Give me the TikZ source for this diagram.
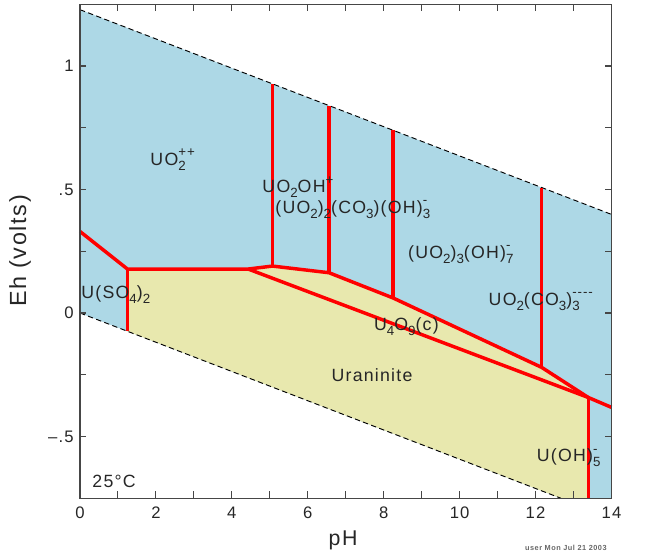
\documentclass[tikz,border=0pt]{standalone}
\usepackage{fontspec}
\setmainfont{Liberation Sans}[LetterSpace=7]
\newcommand\sbx[1]{\raisebox{-3.8pt}{\fontsize{10}{10}\selectfont #1}}
\newcommand\spx[1]{\raisebox{6.4pt}{\fontsize{10}{10}\selectfont #1}}
\newcommand\sbsp[2]{\ooalign{\sbx{#1}\cr\spx{#2}\cr}}
\definecolor{blueC}{RGB}{173,216,230}
\definecolor{yelC}{RGB}{232,232,174}
\definecolor{frameC}{RGB}{70,70,70}
\tikzset{
  wline/.style={black, line width=0.7pt, dash pattern=on 4pt off 2.5pt},
  redl/.style={red, line width=2.6pt, line join=round},
  frm/.style={frameC, line width=1.1pt},
  tck/.style={frameC, line width=0.8pt},
  lbl/.style={inner sep=0pt, font=\fontsize{13.3}{15}\selectfont, text=black!85},
  tlbl/.style={inner sep=0pt, font=\fontsize{12.5}{14}\selectfont, text=black!85}
}
\begin{document}
\begin{tikzpicture}[x=28.47pt,y=185.25pt]
\useasboundingbox (-2.1075,-0.9838) rectangle (15.437,1.2672);
% water lines
\coordinate (W1) at (0,1.228);
\coordinate (W2) at (14,0.3992);
\coordinate (W3) at (0,0);
\coordinate (W4) at (12.669,-0.75);
\coordinate (R1) at (14,-0.75);
% boundary vertices
\coordinate (A) at (0,0.33);
\coordinate (B) at (1.25,0.178);
\coordinate (Bb) at (1.25,-0.074);
\coordinate (C) at (4.43,0.178);
\coordinate (D) at (5.07,0.19);
\coordinate (Dt) at (5.07,0.928);
\coordinate (E) at (6.56,0.163);
\coordinate (Et) at (6.56,0.8397);
\coordinate (F) at (8.245,0.061);
\coordinate (Ft) at (8.245,0.7399);
\coordinate (G) at (12.16,-0.22);
\coordinate (Gt) at (12.16,0.508);
\coordinate (J) at (13.39,-0.342);
\coordinate (Jb) at (13.39,-0.75);
\coordinate (K) at (14,-0.382);
% fills
\fill[blueC] (W1) -- (W2) -- (R1) -- (W4) -- (W3) -- cycle;
\fill[yelC] (Bb) -- (B) -- (C) -- (D) -- (E) -- (F) -- (G) -- (J) -- (Jb) -- (W4) -- cycle;
% dashed water lines
\draw[wline] (W1) -- (W2);
\draw[wline] (W3) -- (W4);
% red boundaries
\draw[redl] (A) -- (B) -- (C) -- (D) -- (E) -- (F) -- (G) -- (J) -- (K);
\draw[redl] (B) -- (Bb);
\draw[redl] (C) -- (J);
\draw[redl] (D) -- (Dt);
\draw[redl] (E) -- (Et);
\draw[redl] (F) -- (Ft);
\draw[redl] (G) -- (Gt);
\draw[redl] (J) -- (Jb);
% frame and ticks
\draw[frm] (0,-0.75) rectangle (14,1.25);
\foreach \i in {1,...,13} {
  \draw[tck] (\i,-0.75) -- ++(0,5.25pt);
  \draw[tck] (\i,1.25) -- ++(0,-5.25pt);
}
\foreach \e in {-0.5,-0.25,0,0.25,0.5,0.75,1} {
  \draw[tck] (0,\e) -- ++(4.5pt,0);
  \draw[tck] (14,\e) -- ++(-4.5pt,0);
}
% tick labels
\foreach \i in {0,2,...,14} {
  \node[tlbl] (x\i) at (\i,-0.8097) {\i};
}
\node[tlbl, anchor=east] (y1) at ([xshift=-4.5pt]0,1) {1};
\node[tlbl, anchor=east] (y2) at ([xshift=-4.5pt]0,0.5) {.5};
\node[tlbl, anchor=east] (y3) at ([xshift=-4.5pt]0,0) {0};
\node[tlbl, anchor=east] (y4) at ([xshift=-4.5pt]0,-0.5) {--.5};
% axis titles
\node[inner sep=0pt, font=\fontsize{16}{18}\selectfont, text=black!85] (xt) at (6.93,-0.919) {pH};
\node[inner sep=0pt, font=\fontsize{17.5}{19}\selectfont, text=black!85, rotate=90] (yt) at (-1.58,0.251) {Eh (volts)};
\node[inner sep=0pt, font=\bfseries\fontsize{5.5}{6}\selectfont, text=black!60] (usr) at (12.80,-0.951) {user Mon Jul 21 2003};
% region labels
\node[lbl, anchor=base west] (l1) at (1.85,0.599) {UO\sbsp{2}{++}};
\node[lbl, anchor=base west] (l2) at (4.80,0.487) {UO\sbx{2}OH\spx{+}};
\node[lbl, anchor=base west] (l3) at (5.14,0.404) {(UO\sbx{2})\sbx{2}(CO\sbx{3})(OH)\sbsp{3}{-}};
\node[lbl, anchor=base west] (l4) at (8.64,0.221) {(UO\sbx{2})\sbx{3}(OH)\sbsp{7}{-}};
\node[lbl, anchor=base west] (l5) at (10.76,0.032) {UO\sbx{2}(CO\sbx{3})\sbsp{3}{-{}-{}-{}-}};
\node[lbl, anchor=base west] (l6) at (7.74,-0.069) {U\sbx{4}O\sbx{9}(c)};
\node[lbl, anchor=base west] (l7) at (6.62,-0.278) {Uraninite};
\node[lbl, anchor=base west] (l8) at (12.03,-0.602) {U(OH)\sbsp{5}{-}};
\node[lbl, anchor=base west] (l9) at (0.03,0.0595) {U(SO\sbx{4})\sbx{2}};
\node[lbl, anchor=base west] (l10) at (0.32,-0.706) {25°C};
\end{tikzpicture}
\end{document}
